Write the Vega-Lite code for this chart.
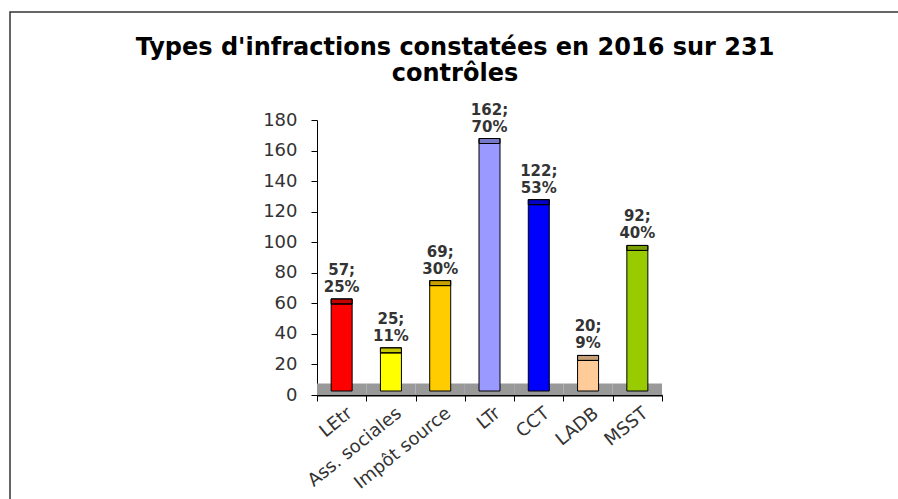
{
  "$schema": "https://vega.github.io/schema/vega-lite/v6.json",
  "width": 890,
  "height": 490,
  "autosize": {"type": "none"},
  "padding": {"left": 10, "top": 12, "right": -2, "bottom": -3},
  "background": "white",
  "title": {
    "text": ["Types d'infractions constatées en 2016 sur 231", "contrôles"],
    "font": "DejaVu Sans",
    "fontWeight": "bold",
    "fontSize": 24,
    "color": "black",
    "anchor": "middle",
    "frame": "group",
    "lineHeight": 26,
    "baseline": "top",
    "offset": 0,
    "dy": 74
  },
  "config": {
    "view": {"stroke": "#333333", "strokeWidth": 1.5},
    "axis": {
      "labelFont": "DejaVu Sans",
      "labelFontSize": 18,
      "labelColor": "#333333",
      "domainColor": "black",
      "tickColor": "black",
      "grid": false,
      "title": null
    }
  },
  "data": {
    "values": [
      {"cat": "LEtr", "value": 57, "label": "57;\n25%"},
      {"cat": "Ass. sociales", "value": 25, "label": "25;\n11%"},
      {"cat": "Impôt source", "value": 69, "label": "69;\n30%"},
      {"cat": "LTr", "value": 162, "label": "162;\n70%"},
      {"cat": "CCT", "value": 122, "label": "122;\n53%"},
      {"cat": "LADB", "value": 20, "label": "20;\n9%"},
      {"cat": "MSST", "value": 92, "label": "92;\n40%"}
    ]
  },
  "encoding": {
    "x": {
      "field": "cat",
      "type": "nominal",
      "sort": null,
      "scale": {"range": [307, 652], "paddingInner": 0, "paddingOuter": 0},
      "axis": {
        "orient": "bottom",
        "offset": -107,
        "labelAngle": -39,
        "labelAlign": "right",
        "labelBaseline": "middle",
        "labelPadding": 10,
        "labelOffset": 8,
        "tickBand": "extent",
        "tickSize": 6,
        "domainWidth": 2
      }
    }
  },
  "layer": [
    {
      "mark": {"type": "bar", "width": {"band": 1}, "fill": "#999999", "strokeWidth": 0},
      "encoding": {
        "y": {
          "datum": 0,
          "type": "quantitative",
          "scale": {"domain": [0, 180], "range": [383, 108], "nice": false},
          "axis": {
            "orient": "left",
            "offset": -307,
            "values": [0, 20, 40, 60, 80, 100, 120, 140, 160, 180],
            "tickSize": 6,
            "labelPadding": 14,
            "domainWidth": 1
          }
        },
        "y2": {"datum": 7.6}
      }
    },
    {
      "mark": {"type": "bar", "width": 21, "stroke": "black", "strokeWidth": 1, "yOffset": -4, "y2Offset": -4},
      "encoding": {
        "y": {"field": "value", "type": "quantitative"},
        "y2": {"datum": 0},
        "color": {
          "field": "cat",
          "type": "nominal",
          "scale": {
            "domain": ["LEtr", "Ass. sociales", "Impôt source", "LTr", "CCT", "LADB", "MSST"],
            "range": ["#FF0000", "#FFFF00", "#FFCC00", "#9999FF", "#0000FF", "#FFCC99", "#99CC00"]
          },
          "legend": null
        }
      }
    },
    {
      "mark": {"type": "bar", "width": 21, "stroke": "black", "strokeWidth": 1, "yOffset": -9, "y2Offset": -4},
      "encoding": {
        "y": {"field": "value", "type": "quantitative"},
        "y2": {"field": "value"},
        "color": {"field": "cat", "type": "nominal", "legend": null}
      }
    },
    {
      "mark": {"type": "bar", "width": 21, "fill": "black", "fillOpacity": 0.22, "stroke": "black", "strokeWidth": 1, "yOffset": -9, "y2Offset": -4},
      "encoding": {
        "y": {"field": "value", "type": "quantitative"},
        "y2": {"field": "value"}
      }
    },
    {
      "mark": {
        "type": "text",
        "font": "DejaVu Sans",
        "fontWeight": "bold",
        "fontSize": 15,
        "color": "#333333",
        "align": "center",
        "baseline": "bottom",
        "lineBreak": "\n",
        "lineHeight": 17,
        "dy": -30
      },
      "encoding": {
        "y": {"field": "value", "type": "quantitative"},
        "text": {"field": "label"}
      }
    }
  ]
}
